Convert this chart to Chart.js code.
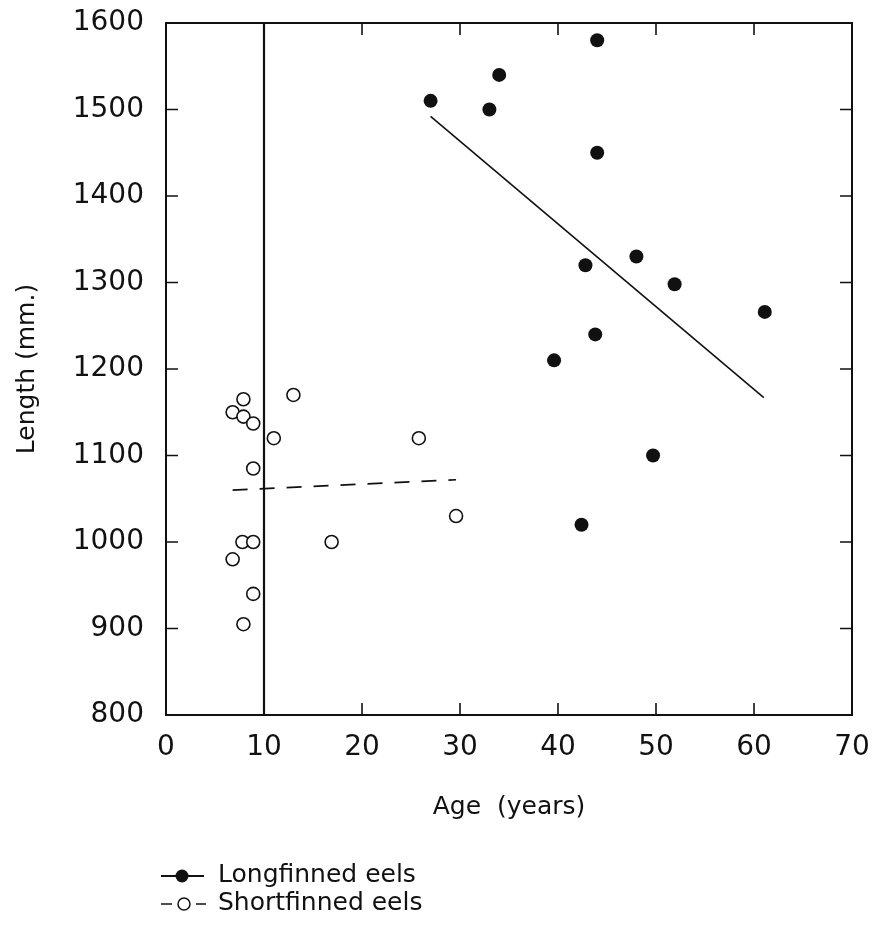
<!DOCTYPE html>
<html>
<head>
<meta charset="utf-8">
<title>Length vs age of eels</title>
<script src="https://cdn.jsdelivr.net/npm/chart.js@4.4.1/dist/chart.umd.min.js"></script>
<style>
    body { margin: 0; background: #fff; }
    #eelChart { display: block; }
</style>
</head>
<body>
<canvas id="eelChart" width="872" height="931"></canvas>
<script>
// values
const longAge = [27, 33, 34, 44, 44, 42.8, 48, 51.9, 61.1, 43.8, 39.6, 49.7, 42.4];
const longLength = [1510, 1500, 1540, 1580, 1450, 1320, 1330, 1298, 1266, 1240, 1210, 1100, 1020];

const shortAge = [7.9, 6.8, 7.9, 8.9, 13, 11, 25.8, 8.9, 29.6, 7.8, 8.9, 16.9, 6.8, 8.9, 7.9];
const shortLength = [1165, 1150, 1145, 1137, 1170, 1120, 1120, 1085, 1030, 1000, 1000, 1000, 980, 940, 905];

// fitted lines
const longFitAge = [27, 61];
const longFitLength = [1492, 1167];
const shortFitAge = [6.8, 29.6];
const shortFitLength = [1060, 1072];

// vertical line at 10 years
const limitAge = [10, 10];
const limitLength = [800, 1600];

const xTicks = [0, 10, 20, 30, 40, 50, 60, 70];
const yTicks = [800, 900, 1000, 1100, 1200, 1300, 1400, 1500, 1600];

const seriesNames = ['Longfinned eels', 'Shortfinned eels'];

function toPoints(xs, ys) {
    return xs.map((x, i) => ({ x: x, y: ys[i] }));
}

const ink = '#111';
const font = "'DejaVu Sans', sans-serif";

// frame with inward ticks, like the original plot
const framePlugin = {
    id: 'frame',
    afterDatasetsDraw(chart) {
        const ctx = chart.ctx;
        const a = chart.chartArea;
        const xs = chart.scales.x;
        const ys = chart.scales.y;
        const len = 12;
        ctx.save();
        ctx.strokeStyle = ink;
        ctx.lineWidth = 2;
        ctx.strokeRect(a.left, a.top, a.right - a.left, a.bottom - a.top);
        ctx.lineWidth = 1.6;
        ctx.beginPath();
        xTicks.slice(1, -1).forEach(v => {
            const px = xs.getPixelForValue(v);
            ctx.moveTo(px, a.bottom);
            ctx.lineTo(px, a.bottom - len);
            ctx.moveTo(px, a.top);
            ctx.lineTo(px, a.top + len);
        });
        yTicks.slice(1, -1).forEach(v => {
            const py = ys.getPixelForValue(v);
            ctx.moveTo(a.left, py);
            ctx.lineTo(a.left + len, py);
            ctx.moveTo(a.right, py);
            ctx.lineTo(a.right - len, py);
        });
        ctx.stroke();
        ctx.restore();
    }
};

// legend drawn under the axis title, left aligned
const legendPlugin = {
    id: 'eelLegend',
    afterDraw(chart) {
        const ctx = chart.ctx;
        ctx.save();
        ctx.strokeStyle = ink;
        ctx.fillStyle = ink;
        ctx.lineWidth = 2;

        // filled marker on a line
        ctx.beginPath();
        ctx.moveTo(161, 876);
        ctx.lineTo(204, 876);
        ctx.stroke();
        ctx.beginPath();
        ctx.arc(182, 876, 6.5, 0, Math.PI * 2);
        ctx.fill();

        // -o-
        ctx.lineWidth = 1.5;
        ctx.beginPath();
        ctx.moveTo(161, 904);
        ctx.lineTo(172, 904);
        ctx.moveTo(196, 904);
        ctx.lineTo(206, 904);
        ctx.stroke();
        ctx.beginPath();
        ctx.arc(184, 904, 6, 0, Math.PI * 2);
        ctx.stroke();

        ctx.font = '25px ' + font;
        ctx.textBaseline = 'alphabetic';
        ctx.fillText(seriesNames[0], 218, 882);
        ctx.fillText(seriesNames[1], 218, 910);
        ctx.restore();
    }
};

const chart = new Chart(document.getElementById('eelChart').getContext('2d'), {
    type: 'scatter',
    data: {
        datasets: [
            {
                label: seriesNames[0],
                data: toPoints(longAge, longLength),
                pointStyle: 'circle',
                pointRadius: 7,
                backgroundColor: ink,
                borderColor: ink,
                borderWidth: 0,
            },
            {
                label: seriesNames[1],
                data: toPoints(shortAge, shortLength),
                pointStyle: 'circle',
                pointRadius: 6.5,
                backgroundColor: '#fff',
                borderColor: ink,
                borderWidth: 1.6,
            },
            {
                label: 'Longfinned fit',
                data: toPoints(longFitAge, longFitLength),
                showLine: true,
                pointRadius: 0,
                borderColor: ink,
                borderWidth: 1.6,
            },
            {
                label: 'Shortfinned fit',
                data: toPoints(shortFitAge, shortFitLength),
                showLine: true,
                pointRadius: 0,
                borderColor: ink,
                borderWidth: 1.6,
                borderDash: [15, 12],
            },
            {
                label: '10 years',
                data: toPoints(limitAge, limitLength),
                showLine: true,
                pointRadius: 0,
                borderColor: ink,
                borderWidth: 2.2,
            },
        ]
    },
    options: {
        responsive: false,
        animation: false,
        layout: {
            padding: { left: 0, right: 20, top: 23, bottom: 101 }
        },
        plugins: {
            legend: { display: false },
            tooltip: { enabled: false },
        },
        scales: {
            x: {
                type: 'linear',
                min: 0,
                max: 70,
                border: { display: false },
                grid: { display: false, drawTicks: false },
                afterFit(scale) {
                    scale.height = 115;
                    scale.paddingLeft = 0;
                    scale.paddingRight = 0;
                },
                afterBuildTicks(scale) { scale.ticks = xTicks.map(v => ({ value: v })); },
                ticks: {
                    padding: 16,
                    color: ink,
                    font: { family: font, size: 28 },
                    callback: v => String(v),
                },
                title: {
                    display: true,
                    text: 'Age  (years)',
                    color: ink,
                    font: { family: font, size: 25 },
                    padding: { top: 0, bottom: 8 },
                },
            },
            y: {
                type: 'linear',
                min: 800,
                max: 1600,
                border: { display: false },
                grid: { display: false, drawTicks: false },
                afterFit(scale) {
                    scale.width = 166;
                    scale.paddingTop = 0;
                    scale.paddingBottom = 0;
                },
                afterBuildTicks(scale) { scale.ticks = yTicks.map(v => ({ value: v })); },
                ticks: {
                    padding: 22,
                    color: ink,
                    font: { family: font, size: 28 },
                    callback: v => String(v),
                },
                title: {
                    display: true,
                    text: 'Length (mm.)',
                    color: ink,
                    font: { family: font, size: 25 },
                    padding: { top: 12, bottom: 0 },
                },
            },
        },
    },
    plugins: [framePlugin, legendPlugin],
});
</script>
</body>
</html>
